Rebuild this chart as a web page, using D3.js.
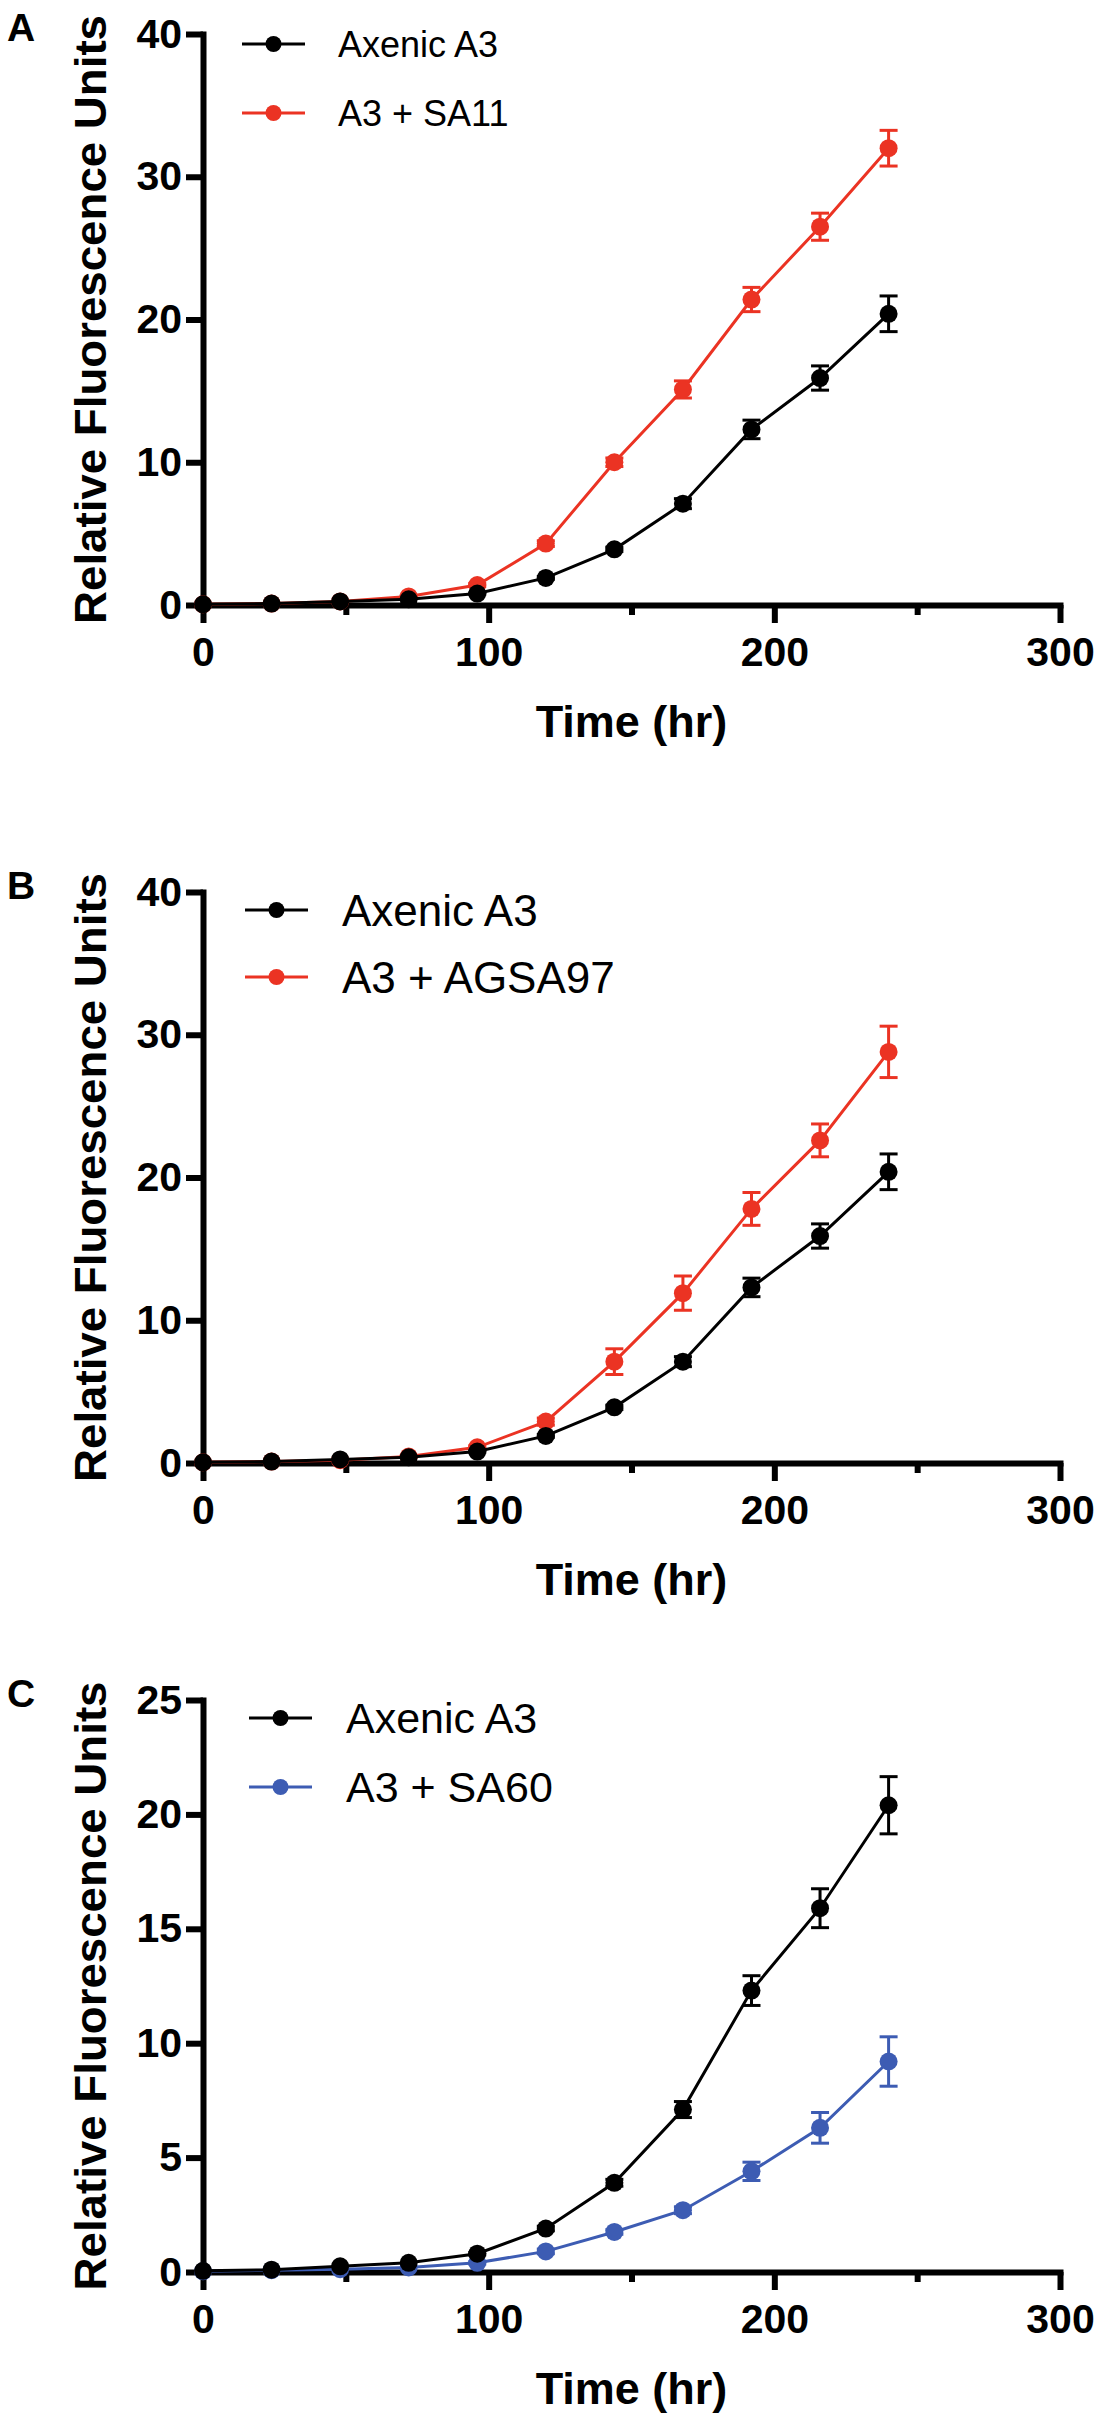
<!DOCTYPE html>
<html>
<head>
<meta charset="utf-8">
<script src="https://cdn.jsdelivr.net/npm/d3@7"></script>
<style>
  body { margin: 0; background: #fff; }
</style>
</head>
<body>
<svg id="fig"></svg>
<script>
// sampling times (hr)
const times = [0, 24, 48, 72, 96, 120, 144, 168, 192, 216, 240]

// Axenic A3 control (same in every panel)
const axenic    = [0.05, 0.1, 0.25, 0.4, 0.8, 1.9, 3.9, 7.1, 12.3, 15.9, 20.4]
const axenicErr = [0, 0, 0, 0, 0.05, 0.1, 0.15, 0.35, 0.65, 0.85, 1.25]

// co-cultures
const sa11      = [0.05, 0.1, 0.25, 0.6, 1.4, 4.3, 10.0, 15.1, 21.4, 26.5, 32.0]
const sa11Err   = [0, 0, 0, 0.05, 0.1, 0.2, 0.3, 0.6, 0.85, 0.95, 1.25]
const agsa97    = [0.05, 0.1, 0.2, 0.45, 1.1, 2.9, 7.1, 11.9, 17.8, 22.6, 28.8]
const agsa97Err = [0, 0, 0, 0.05, 0.1, 0.25, 0.9, 1.2, 1.15, 1.15, 1.8]
const sa60      = [0.03, 0.08, 0.12, 0.2, 0.4, 0.9, 1.75, 2.7, 4.4, 6.3, 9.2]
const sa60Err   = [0, 0, 0, 0, 0.05, 0.1, 0.1, 0.15, 0.4, 0.67, 1.08]

// axis ticks
const xTicks  = [0, 100, 200, 300]
const xMinor  = [50, 150, 250]
const yTicks40 = [0, 10, 20, 30, 40]
const yTicks25 = [0, 5, 10, 15, 20, 25]

const panelLetters = ["A", "B", "C"]
const controlLabel = "Axenic A3"
const coLabels = ["A3 + SA11", "A3 + AGSA97", "A3 + SA60"]
const xTitle = "Time (hr)"
const yTitle = "Relative Fluorescence Units"

const black = "#000"
const red = "#eb3323"
const blue = "#3d5cb3"
const font = "'Liberation Sans', Arial, Helvetica, sans-serif"

const panels = [
    { letter: panelLetters[0], top: 34, bottom: 605, yMax: 40, yTicks: yTicks40,
      co: sa11, coErr: sa11Err, coColor: red, coLabel: coLabels[0],
      leg: { x1: 242, x2: 305, y: 44, gap: 69, tx: 338, fs: 36 } },
    { letter: panelLetters[1], top: 892, bottom: 1463, yMax: 40, yTicks: yTicks40,
      co: agsa97, coErr: agsa97Err, coColor: red, coLabel: coLabels[1],
      leg: { x1: 245, x2: 308, y: 910, gap: 67, tx: 342, fs: 44 } },
    { letter: panelLetters[2], top: 1700, bottom: 2272, yMax: 25, yTicks: yTicks25,
      co: sa60, coErr: sa60Err, coColor: blue, coLabel: coLabels[2],
      leg: { x1: 249, x2: 312, y: 1718, gap: 69, tx: 346, fs: 43 } }
]

const W = 1112, H = 2425
const svg = d3.select("#fig").attr("width", W).attr("height", H)
    .style("font-family", font)

const x = d3.scaleLinear().domain([0, 300]).range([203, 1060])

panels.forEach(p => drawPanel(p))

function drawPanel(p) {
    const g = svg.append("g")
    const y = d3.scaleLinear().domain([0, p.yMax]).range([p.bottom, p.top])

    // minor x ticks
    g.append("g")
        .attr("transform", `translate(0,${p.bottom})`)
        .call(d3.axisBottom(x).tickValues(xMinor).tickSize(10).tickFormat(""))
        .call(a => a.select(".domain").remove())
        .call(styleAxis)

    // x axis
    g.append("g")
        .attr("transform", `translate(0,${p.bottom})`)
        .call(d3.axisBottom(x).tickValues(xTicks).tickSize(18).tickSizeOuter(0).tickPadding(14))
        .call(styleAxis)

    // y axis
    g.append("g")
        .attr("transform", `translate(${x(0)},0)`)
        .call(d3.axisLeft(y).tickValues(p.yTicks).tickSize(17).tickSizeOuter(0).tickPadding(4))
        .call(styleAxis)

    // axis titles
    g.append("text")
        .attr("transform", `translate(106,${(p.top + p.bottom) / 2}) rotate(-90)`)
        .attr("text-anchor", "middle")
        .attr("font-size", 45)
        .attr("font-weight", "bold")
        .attr("textLength", 609)
        .attr("lengthAdjust", "spacingAndGlyphs")
        .text(yTitle)

    g.append("text")
        .attr("x", (x(0) + x(300)) / 2)
        .attr("y", p.bottom + 132)
        .attr("text-anchor", "middle")
        .attr("font-size", 45)
        .attr("font-weight", "bold")
        .text(xTitle)

    // panel letter
    g.append("text")
        .attr("x", 7)
        .attr("y", p.top + 7)
        .attr("font-size", 39)
        .attr("font-weight", "bold")
        .text(p.letter)

    // series: coloured one first, control drawn on top
    drawSeries(g, y, p.co, p.coErr, p.coColor)
    drawSeries(g, y, axenic, axenicErr, black)

    // legend
    const rows = [
        { label: controlLabel, color: black },
        { label: p.coLabel, color: p.coColor }
    ]
    rows.forEach((r, i) => {
        const ly = p.leg.y + i * p.leg.gap
        g.append("line")
            .attr("x1", p.leg.x1).attr("x2", p.leg.x2)
            .attr("y1", ly).attr("y2", ly)
            .attr("stroke", r.color).attr("stroke-width", 3)
        g.append("circle")
            .attr("cx", (p.leg.x1 + p.leg.x2) / 2).attr("cy", ly)
            .attr("r", 8).attr("fill", r.color)
        g.append("text")
            .attr("x", p.leg.tx).attr("y", ly)
            .attr("dy", "0.36em")
            .attr("font-size", p.leg.fs)
            .text(r.label)
    })
}

function drawSeries(g, y, vals, errs, color) {
    const pts = times.map((t, i) => ({ t: t, v: vals[i], e: errs[i] }))
    const line = d3.line().x(d => x(d.t)).y(d => y(d.v))

    g.append("path")
        .datum(pts)
        .attr("d", line)
        .attr("fill", "none")
        .attr("stroke", color)
        .attr("stroke-width", 3)

    const eb = g.append("g").selectAll("g").data(pts.filter(d => d.e > 0)).enter().append("g")
        .attr("stroke", color).attr("stroke-width", 3)
    eb.append("line")
        .attr("x1", d => x(d.t)).attr("x2", d => x(d.t))
        .attr("y1", d => y(d.v - d.e)).attr("y2", d => y(d.v + d.e))
    eb.append("line")
        .attr("x1", d => x(d.t) - 9).attr("x2", d => x(d.t) + 9)
        .attr("y1", d => y(d.v + d.e)).attr("y2", d => y(d.v + d.e))
    eb.append("line")
        .attr("x1", d => x(d.t) - 9).attr("x2", d => x(d.t) + 9)
        .attr("y1", d => y(d.v - d.e)).attr("y2", d => y(d.v - d.e))

    g.append("g").selectAll("circle").data(pts).enter().append("circle")
        .attr("cx", d => x(d.t))
        .attr("cy", d => y(d.v))
        .attr("r", 9)
        .attr("fill", color)
}

function styleAxis(a) {
    a.selectAll("path, line").attr("stroke", "#000").attr("stroke-width", 6)
    a.select(".domain").attr("stroke-linecap", "square")
    a.selectAll("text")
        .attr("fill", "#000")
        .attr("font-size", 41)
        .attr("font-weight", "bold")
        .attr("font-family", font)
}
</script>
</body>
</html>
